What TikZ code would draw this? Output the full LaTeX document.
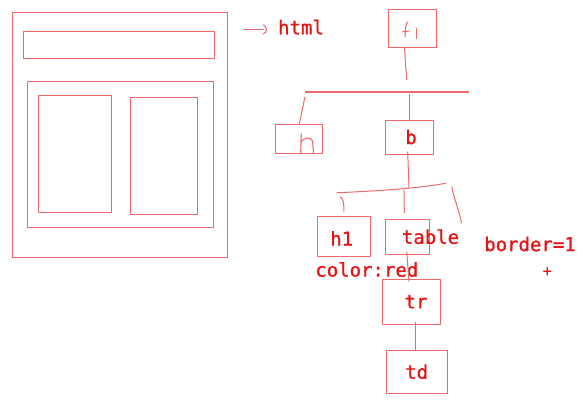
\documentclass[tikz,border=0pt]{standalone}
\usepackage{fontspec}
\newfontfamily\lblfont[FakeBold=0.8]{DejaVu Sans Mono}
\definecolor{lc}{RGB}{238,105,105}
\definecolor{tc}{RGB}{228,20,20}
\begin{document}
\begin{tikzpicture}[x=1pt,y=-1pt,
  box/.style={draw=lc,line width=1pt,inner sep=0pt},
  lbl/.style={text=tc,font=\lblfont\fontsize{19}{19}\selectfont,inner sep=0pt},
  ln/.style={draw=lc,line width=1pt},
  hand/.style={draw=lc,line width=1.1pt,line cap=round}]
\useasboundingbox[fill=white] (0,0) rectangle (585,402);
% wireframe
\draw[ln] (12.3,12.3) rectangle (227,257);
\draw[ln] (23.3,31) rectangle (214.3,58.7);
\draw[ln] (27.7,81) rectangle (213,227.7);
\draw[ln] (38.3,95.3) rectangle (111.7,212.7);
\draw[ln] (130,97.7) rectangle (197.3,214);
% arrow to html
\draw[hand] (244,29.3) -- (263.3,29.3);
\draw[hand] (263.3,25) .. controls (267.5,27) and (267.5,32) .. (263.3,34);
\node[lbl] (html) at (301,27) {html};
% tree boxes
\node[box,minimum width=48.4pt,minimum height=38.3pt] (root) at (412.5,28.2) {};
\node[box,minimum width=46.7pt,minimum height=29.4pt] (hbox) at (299.3,139) {};
\node[box,minimum width=48pt,minimum height=33.7pt] (bbox) at (409.3,137.8) {};
\node[box,minimum width=53pt,minimum height=40pt] (h1box) at (343.8,236) {};
\node[box,minimum width=44pt,minimum height=35.4pt] (tablebox) at (407.3,237) {};
\node[box,minimum width=58pt,minimum height=45pt] (trbox) at (411,301.8) {};
\node[box,minimum width=60.6pt,minimum height=43.3pt] (tdbox) at (417,371.7) {};
% handwritten letters
\draw[hand] (405,36.7) .. controls (405.5,30) and (405.5,24) .. (407.5,22);
\draw[hand] (402.7,31.7) -- (409,31);
\draw[hand] (416.7,28.3) -- (416.7,38.3);
\draw[hand] (301.3,134) -- (300.7,152.5);
\draw[hand] (301,142) .. controls (303,138) and (311,136) .. (312.5,141) -- (313.5,152.5);
% labels
\node[lbl] (blbl) at (411,137) {b};
\node[lbl] (h1lbl) at (341.7,238.3) {h1};
\node[lbl] (tablelbl) at (430.5,236.7) {table};
\node[lbl] (colorlbl) at (366.8,269.5) {color:red};
\node[lbl] (trlbl) at (416,301.7) {tr};
\node[lbl] (tdlbl) at (416.7,371.7) {td};
\node[lbl] (borderlbl) at (530,244) {border=1};
\node[text=tc,font=\lblfont\fontsize{15}{15}\selectfont,inner sep=0pt] (plus) at (547.3,271.7) {+};
% connectors
\coordinate (c1) at (406.7,80);
\coordinate (bar1l) at (305,91.7);
\coordinate (bar1r) at (469.3,91.7);
\draw[ln] ([xshift=-8pt]root.south) -- (c1);
\draw[draw=lc,line width=1.8pt] (bar1l) -- (bar1r);
\draw[ln] (305,96.7) -- (hbox.north);
\draw[ln] (409.3,94) -- (bbox.north);
\coordinate (c2) at (409,188.3);
\draw[ln] ([xshift=-1.6pt,yshift=3.6pt]bbox.south) -- (c2);
\coordinate (bar2l) at (336.7,192.7);
\coordinate (bar2r) at (445.7,183.3);
\draw[ln] (bar2l) .. controls (380,191) and (420,188) .. (bar2r);
\draw[ln] (340,196.7) .. controls (343.5,199) and (344,203) .. ([yshift=4pt]h1box.north);
\draw[ln] (404,190) -- ([xshift=-3pt,yshift=6pt]tablebox.north);
\draw[ln] (451.7,186.7) .. controls (453,195) and (459,210) .. (461.7,223.3);
\draw[ln] ([xshift=-0.6pt,yshift=3.6pt]tablebox.south) -- ([xshift=-2pt,yshift=-2.6pt]trbox.north);
\draw[ln] ([xshift=4.7pt,yshift=2.4pt]trbox.south) -- ([xshift=-1.3pt]tdbox.north);
\end{tikzpicture}
\end{document}
